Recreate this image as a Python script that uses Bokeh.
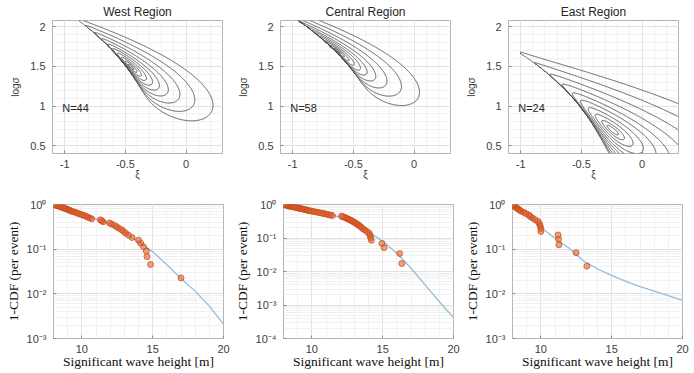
import numpy as np
from bokeh.plotting import figure
from bokeh.layouts import column, row
from bokeh.models import Label, FixedTicker, CustomJSTickFormatter, Spacer
from bokeh.embed import file_html
from bokeh.resources import INLINE

# ---------------- data ----------------
regions = ["West Region", "Central Region", "East Region"]
threshold = 8.0  # m

# significant wave heights of events (m), largest first
west_hs = [17.0, 14.85, 14.6, 14.55, 14.35, 14.15, 14.0, 13.55, 13.3, 13.1,
           12.95, 12.8, 12.6, 12.45, 12.3, 12.1, 11.95, 11.5, 11.4, 11.3,
           10.7, 10.55, 10.4, 10.3, 10.15, 10.0, 9.85, 9.7, 9.6, 9.45,
           9.3, 9.2, 9.1, 9.0, 8.9, 8.8, 8.7, 8.6, 8.5, 8.4,
           8.3, 8.2, 8.1, 8.0]
central_hs = [16.35, 16.2, 15.1, 14.95, 14.2, 14.15, 14.1, 14.05, 13.9, 13.75,
              13.6, 13.5, 13.4, 13.3, 13.2, 13.1, 13.0, 12.9, 12.8, 12.7,
              12.6, 12.5, 12.4, 12.3, 12.2, 12.1, 11.45, 11.3, 11.15, 11.0,
              10.85, 10.7, 10.55, 10.4, 10.25, 10.1, 9.95, 9.8, 9.7, 9.6,
              9.5, 9.4, 9.3, 9.2, 9.1, 9.0, 8.9, 8.8, 8.7, 8.6,
              8.5, 8.4, 8.35, 8.3, 8.2, 8.15, 8.1, 8.0]
east_hs = [13.25, 12.49, 11.28, 11.25, 11.22, 10.0, 10.0, 9.95, 9.9, 9.8,
           9.6, 9.4, 9.25, 9.15, 8.95, 8.8, 8.6, 8.5, 8.4, 8.3,
           8.2, 8.1, 8.05, 8.0]

# fitted exceedance curve (1-CDF per event)
curve_hs = [8, 9, 10, 11, 12, 13, 14, 15, 16, 17, 18, 19, 20]
west_curve = [1.0, 0.78, 0.60, 0.47, 0.37, 0.25, 0.145, 0.088, 0.045, 0.022, 0.0115, 0.0053, 0.0021]
central_curve = [1.0, 0.82, 0.67, 0.54, 0.42, 0.28, 0.155, 0.08, 0.035, 0.0125, 0.004, 0.00125, 0.00042]
east_curve = [1.0, 0.60, 0.31, 0.175, 0.105, 0.055, 0.036, 0.026, 0.019, 0.0145, 0.0115, 0.0091, 0.0071]

bottom_ymin = [1e-3, 1e-4, 1e-3]
# contour levels, as drops of the log-likelihood below its maximum (scaled per panel)
loglik_drops = [5.5, 4.0, 2.8, 1.9, 1.25, 0.8, 0.45, 0.22, 0.08, 0.02]
drop_scale = [1.0, 1.5, 1.0]

all_hs = [west_hs, central_hs, east_hs]
all_curves = [west_curve, central_curve, east_curve]

# ---------------- styling ----------------
SANS = "Liberation Sans"
SERIF = "Liberation Serif"
TICK_COLOR = "#404040"
BOX = "#b4b4b4"
GRID = "#e2e2e2"
MINOR_GRID = "#f1f1f1"
FW = 170
LEFT = 50
RIGHT = 8

xi_grid = np.linspace(-1.1, 0.3, 280)
ls_grid = np.linspace(0.4, 2.08, 240)


def gpd_loglik(hs):
    """Generalised Pareto log-likelihood over (xi, log sigma), relative to its maximum."""
    y = np.asarray(hs) - threshold
    XI, LS = np.meshgrid(xi_grid, ls_grid)
    sig = np.exp(LS)[..., None]
    t = XI[..., None] * y / sig
    valid = np.all(t > -1, axis=-1) & (XI > -1)
    logs = np.log1p(np.where(t > -1, t, 0.0)).sum(axis=-1)
    small = np.abs(XI) < 1e-9
    xi_safe = np.where(small, 1.0, XI)
    ll = np.where(small, -len(y) * LS - (y / sig).sum(axis=-1),
                  -len(y) * LS - (1 + 1 / xi_safe) * logs)
    ll = np.where(valid, ll, -1e3)
    return ll - ll[valid].max()


def style(p):
    p.outline_line_color = BOX
    p.outline_line_width = 1
    for ax in (p.xaxis, p.yaxis):
        ax.axis_line_color = None
        ax.major_tick_in = 3
        ax.major_tick_out = 0
        ax.major_tick_line_color = "#8a8a8a"
        ax.minor_tick_line_color = None
        ax.major_label_text_font = SANS
        ax.major_label_text_font_size = "11px"
        ax.major_label_text_color = TICK_COLOR
        ax.major_label_standoff = 3
        ax.axis_label_standoff = 0
        ax.axis_label_text_line_height = 1.0
        ax.axis_label_text_font_style = "normal"
    p.xaxis.major_label_standoff = 2
    p.xaxis.axis_label_standoff = -2
    for g in (p.xgrid, p.ygrid):
        g.grid_line_color = GRID
        g.minor_grid_line_color = MINOR_GRID


plain_fmt = CustomJSTickFormatter(code="return tick.toString();")
pow_fmt = CustomJSTickFormatter(code="""
const sup = {'0':'\u2070','1':'\u00b9','2':'\u00b2','3':'\u00b3','4':'\u2074',
             '5':'\u2075','6':'\u2076','7':'\u2077','8':'\u2078','9':'\u2079','-':'\u207b'};
const e = Math.round(Math.log10(tick)).toString();
let s = '10';
for (const c of e) { s += sup[c]; }
return s;
""")

tops, bots = [Spacer(width=2, height=10)], [Spacer(width=2, height=10)]
for i, name in enumerate(regions):
    hs = all_hs[i]
    # ----- top: likelihood contours -----
    p = figure(frame_width=FW, frame_height=133, x_range=(-1.1, 0.3), y_range=(0.4, 2.08),
               output_backend="svg", toolbar_location=None, title=name,
               min_border_left=LEFT, min_border_right=RIGHT,
               min_border_top=20, min_border_bottom=31)
    style(p)
    p.title.align = "center"
    p.title.text_font = SANS
    p.title.text_font_size = "12px"
    p.title.text_font_style = "normal"
    p.title.text_color = "#262626"
    p.title.standoff = 3
    p.xaxis.ticker = FixedTicker(ticks=[-1, -0.5, 0],
                                 minor_ticks=[round(v, 2) for v in np.arange(-1.1, 0.31, 0.1)])
    p.yaxis.ticker = FixedTicker(ticks=[0.5, 1, 1.5, 2],
                                 minor_ticks=[round(v, 2) for v in np.arange(0.4, 2.09, 0.1)])
    p.xaxis.formatter = plain_fmt
    p.yaxis.formatter = plain_fmt
    p.xaxis.axis_label = "\u03be"
    p.yaxis.axis_label = "log\u03c3"
    p.yaxis.axis_label_standoff = 6
    p.xaxis.axis_label_text_font = SANS
    p.yaxis.axis_label_text_font = SANS
    p.xaxis.axis_label_text_font_size = "10px"
    p.yaxis.axis_label_text_font_size = "10px"
    p.xaxis.axis_label_text_color = TICK_COLOR
    p.yaxis.axis_label_text_color = TICK_COLOR

    ll = gpd_loglik(hs)
    p.contour(xi_grid, ls_grid, ll, levels=[-d * drop_scale[i] for d in loglik_drops],
              line_color="#4d4d4d", line_width=0.9, fill_color=None)

    p.add_layout(Label(x=-1.02, y=0.98, text=f"N={len(hs)}", text_align="left",
                       text_baseline="middle", text_font=SANS,
                       text_font_size="11px", text_color="#262626"))
    tops.append(p)

    # ----- bottom: exceedance probability -----
    n = len(hs)
    probs = [(k + 1) / n for k in range(n)]
    q = figure(frame_width=FW, frame_height=134, x_range=(8, 20), y_range=(bottom_ymin[i], 1.0),
               y_axis_type="log", output_backend="svg", toolbar_location=None,
               min_border_left=LEFT, min_border_right=RIGHT,
               min_border_top=20, min_border_bottom=34)
    style(q)
    q.xaxis.ticker = FixedTicker(ticks=[10, 15, 20], minor_ticks=list(range(8, 21)))
    exps = range(int(round(np.log10(bottom_ymin[i]))), 1)
    majors = [10.0 ** e for e in exps]
    minors = [m * 10.0 ** e for e in exps for m in range(2, 10) if m * 10.0 ** e < 1]
    q.yaxis.ticker = FixedTicker(ticks=majors, minor_ticks=minors)
    q.xaxis.formatter = plain_fmt
    q.yaxis.formatter = pow_fmt
    q.xaxis.axis_label = "Significant wave height [m]"
    q.yaxis.axis_label = "1-CDF (per event)"
    q.yaxis.axis_label_standoff = 3
    for ax in (q.xaxis, q.yaxis):
        ax.axis_label_text_font = SERIF
        ax.axis_label_text_color = "#111111"
    q.xaxis.axis_label_text_font_size = "13.5px"
    q.yaxis.axis_label_text_font_size = "13.5px"

    q.line(curve_hs, all_curves[i], line_color="#93bdd8", line_width=1.3)
    q.scatter(hs, probs, size=6, marker="circle", fill_color="#e2622b", fill_alpha=0.6,
              line_color="#c4471a", line_alpha=0.7, line_width=1)
    bots.append(q)

layout = column(row(*tops, spacing=0), row(*bots, spacing=0), spacing=0)
open("out.html", "w").write(file_html(layout, INLINE))
